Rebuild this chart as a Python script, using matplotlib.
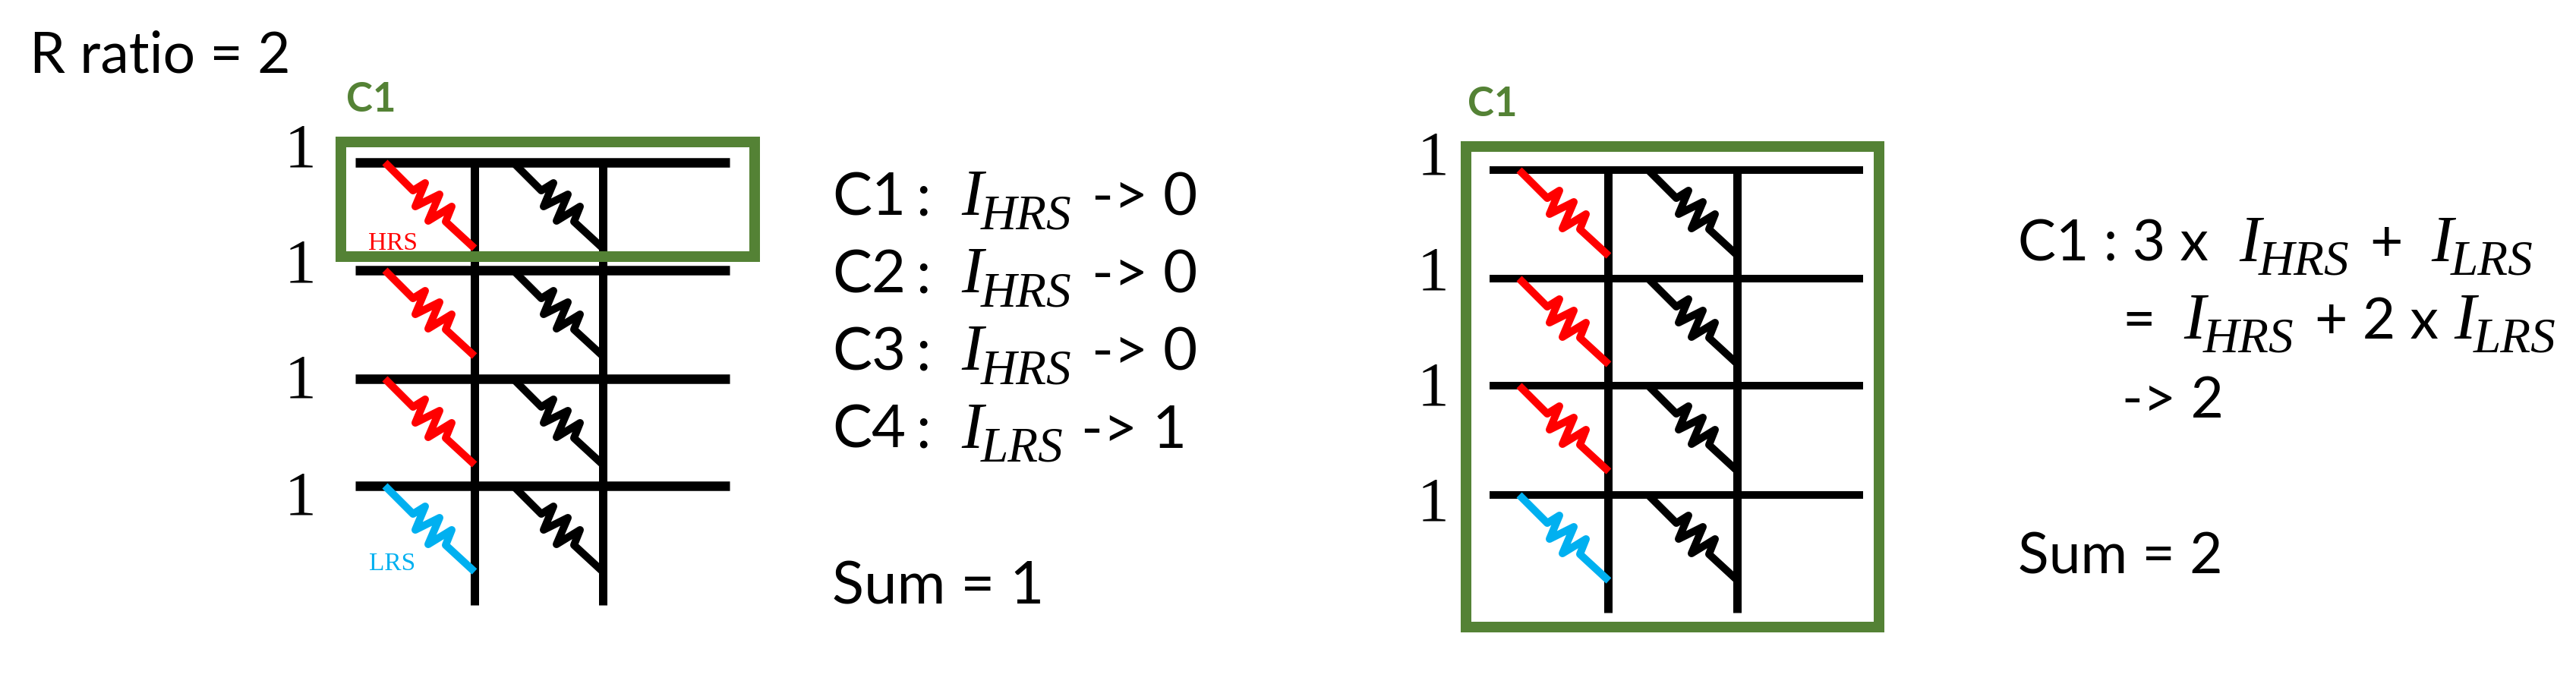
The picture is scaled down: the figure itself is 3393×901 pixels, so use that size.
import matplotlib
matplotlib.use('Agg')
import matplotlib.pyplot as plt

BLACK = '#000000'
RED = '#FF0000'
BLUE = '#00B0F0'
GREEN = '#548235'

# word line inputs and cell states, top row first
inputs = ['1', '1', '1', '1']
first_col = ['HRS', 'HRS', 'HRS', 'LRS']

# layout of both arrays, in pixels of the picture
left = dict(rows=[214, 356, 499, 640], x0=468, x1=961, cols=[625, 794], bottom=797,
            res_x=507, label_x=395, label_y=[220, 372, 524, 677], row_lw=12.5,
            box=(449, 187, 994, 338), c1=(456, 147))
right = dict(rows=[224, 367, 508, 652], x0=1962, x1=2454, cols=[2118, 2288], bottom=807,
             res_x=2001, label_x=1888, label_y=[230, 381, 533, 686], row_lw=10,
             box=(1931, 193, 2475, 826), c1=(1933, 153))

# resistor outline relative to its top end
zig_x = [0, 37, 53, 40, 72, 57, 88, 80, 118]
zig_y = [0, 37, 27, 58, 42, 77, 58, 78, 113]

fig = plt.figure(figsize=(33.93, 9.01), dpi=100)
ax = fig.add_axes([0, 0, 1, 1])
ax.set_xlim(0, 3393)
ax.set_ylim(901, 0)
ax.axis('off')


def px(w):
    return w * 72 / 100


def resistor(x, y, color):
    ax.plot([x + a for a in zig_x], [y + b for b in zig_y], color=color, lw=px(10),
            solid_joinstyle='round', solid_capstyle='butt', zorder=3)


def draw_array(d):
    for y in d['rows']:
        ax.plot([d['x0'], d['x1']], [y, y], color=BLACK, lw=px(d['row_lw']),
                solid_capstyle='butt', zorder=2)
    for x in d['cols']:
        ax.plot([x, x], [d['rows'][0], d['bottom']], color=BLACK, lw=px(11),
                solid_capstyle='butt', zorder=2)
    step = d['cols'][1] - d['cols'][0]
    for y, state in zip(d['rows'], first_col):
        resistor(d['res_x'], y, RED if state == 'HRS' else BLUE)
        resistor(d['res_x'] + step, y, BLACK)
    for y, val in zip(d['label_y'], inputs):
        ax.text(d['label_x'], y, val, family='Liberation Serif', fontsize=60,
                ha='center', va='baseline')
    x0, y0, x1, y1 = d['box']
    ax.plot([x0, x1, x1, x0, x0], [y0, y0, y1, y1, y0], color=GREEN, lw=px(14),
            solid_joinstyle='miter', zorder=4)
    ax.text(d['c1'][0], d['c1'][1], 'C1', family='Lato', weight='bold', color=GREEN,
            fontsize=38, ha='left', va='baseline')


def label(x, y, s, size=54):
    ax.text(x, y, s, family='Lato', fontsize=size, va='baseline')


def current(x, y, sub):
    # I with a large subscript, set by hand since mathtext shrinks it too much
    ax.text(x, y, 'I', family='Liberation Serif', style='italic', fontsize=62, va='baseline')
    ax.text(x + 26, y + 18, sub, family='Liberation Serif', style='italic', fontsize=47, va='baseline')


draw_array(left)
draw_array(right)

label(39, 95, 'R ratio = 2')

# state labels next to the first column
ax.text(517, 329, 'HRS', family='Liberation Serif', color=RED, fontsize=24, ha='center', va='baseline')
ax.text(517, 751, 'LRS', family='Liberation Serif', color=BLUE, fontsize=24, ha='center', va='baseline')

# left equations
left_names = ['C1', 'C2', 'C3', 'C4']
left_current = ['HRS', 'HRS', 'HRS', 'LRS']
left_result = ['0', '0', '0', '1']
left_base = [283, 385, 487, 590]
for name, cur, res, y in zip(left_names, left_current, left_result, left_base):
    label(1096, y, name, 56)
    label(1206, y, ':', 56)
    current(1266, y, cur)
    label(1438 if cur == 'HRS' else 1424, y, '-> ' + res, 56)
label(1096, 796, 'Sum = 1', 56)

# right equations
label(2658, 344, 'C1 : 3 x')
current(2949, 344, 'HRS')
label(3121, 344, '+')
current(3202, 344, 'LRS')
label(2795, 446, '=')
current(2876, 446, 'HRS')
label(3049, 446, '+ 2 x')
current(3232, 446, 'LRS')
label(2795, 550, '-> 2')
label(2658, 755, 'Sum = 2')

fig.savefig('out.png', dpi=100)
